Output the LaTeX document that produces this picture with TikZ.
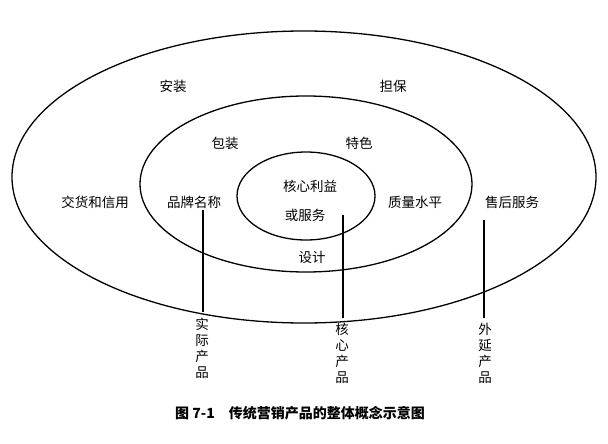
\documentclass[tikz,border=0pt]{standalone}
\usepackage{fontspec}
\setmainfont{Noto Sans CJK SC}
\begin{document}
\begin{tikzpicture}[x=1pt,y=-1pt,
 lbl/.style={font=\fontsize{13.5}{16}\selectfont,inner sep=0pt},
 vlbl/.style={font=\fontsize{13.5}{16}\selectfont,inner sep=0pt,align=center,anchor=north},
 ring/.style={draw,line width=1.3pt}]
\useasboundingbox (0,0) rectangle (608,444);
\draw[ring] (304,177) ellipse [x radius=292,y radius=146];
\draw[ring] (306,184) ellipse [x radius=166,y radius=88];
\draw[ring] (306,196) ellipse [x radius=69,y radius=44];
\node[lbl] at (173,86) {安装};
\node[lbl] at (393,86) {担保};
\node[lbl] at (225,143) {包装};
\node[lbl] at (359,143) {特色};
\node[lbl] at (95,202) {交货和信用};
\node[lbl] at (194,202) {品牌名称};
\node[lbl] at (310,186) {核心利益};
\node[lbl] at (305,215) {或服务};
\node[lbl] at (415,202) {质量水平};
\node[lbl] at (512,202) {售后服务};
\node[lbl] at (312,257) {设计};
\coordinate (a1) at (203,210); \coordinate (a2) at (203,312);
\coordinate (b1) at (343,215); \coordinate (b2) at (343,318);
\coordinate (c1) at (484,220); \coordinate (c2) at (484,318);
\draw[line width=1.3pt] (a1) -- (a2);
\draw[line width=1.3pt] (b1) -- (b2);
\draw[line width=1.3pt] (c1) -- (c2);
\node[vlbl] (t1) at (202,318) {实\\际\\产\\品};
\node[vlbl] (t2) at (342,323) {核\\心\\产\\品};
\node[vlbl] (t3) at (485,323) {外\\延\\产\\品};
\node[lbl,font=\fontsize{14}{16}\selectfont\bfseries] (cap) at (300,413) {图 7-1\quad 传统营销产品的整体概念示意图};
\end{tikzpicture}
\end{document}
